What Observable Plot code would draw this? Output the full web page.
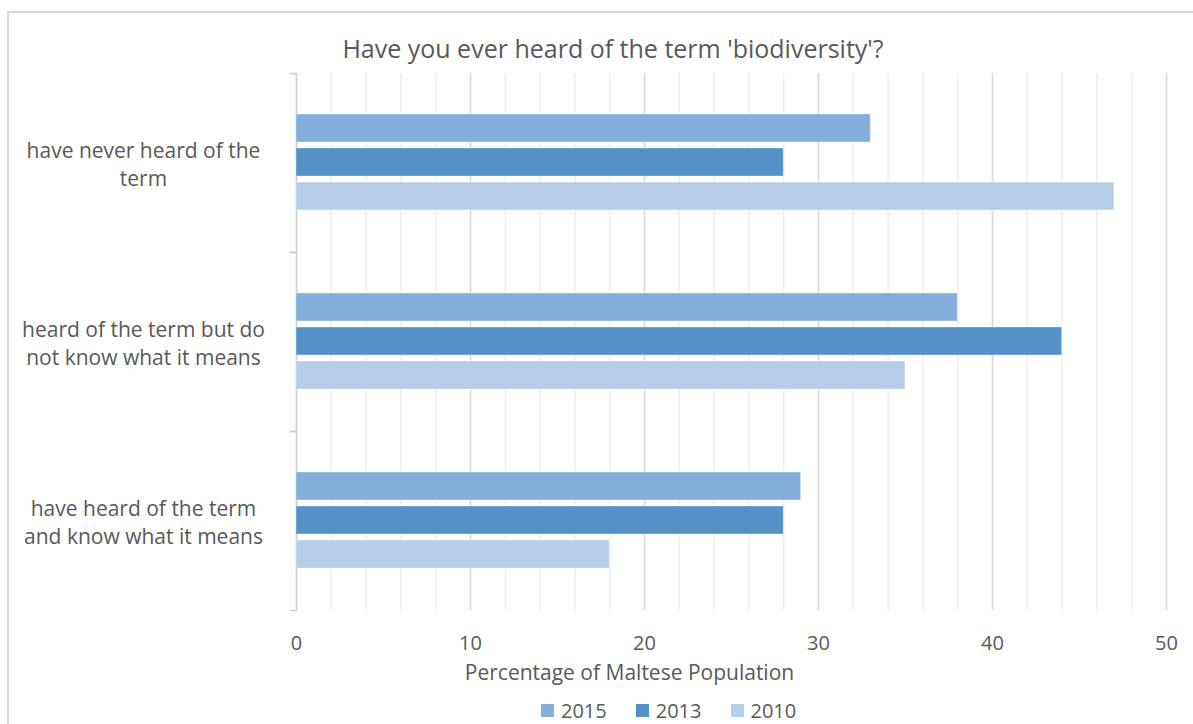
<!DOCTYPE html>
<html>
<head>
<meta charset="utf-8">
<script src="https://cdn.jsdelivr.net/npm/d3@7"></script>
<script src="https://cdn.jsdelivr.net/npm/@observablehq/plot@0.6"></script>
<style>
  html, body { margin: 0; padding: 0; background: #fff; overflow: hidden; }
  body { width: 1193px; height: 724px; position: relative; font-family: "Open Sans", sans-serif; color: #595959; }
  #border { position: absolute; left: 7px; top: 11px; width: 1300px; height: 900px; border: 2px solid #d9d9d9; }
  #title { position: absolute; left: 0; top: 32px; width: 1226px; text-align: center; font-size: 25px; line-height: 32px; }
  #chart { position: absolute; left: 0; top: 60px; }
  #legend { position: absolute; left: 541px; top: 697px; }
  .lg-swatches-wrap { min-height: 0 !important; }
  .lg-swatch { margin-right: 29px !important; font-size: 20px; line-height: 27px; color: #595959; font-family: "Open Sans", sans-serif; }
  .lg-swatch > svg { margin-right: 7px !important; }
</style>
</head>
<body>
<div id="border"></div>
<div id="title">Have you ever heard of the term 'biodiversity'?</div>
<div id="chart"></div>
<div id="legend"></div>
<script>
const categories = [
  "have never heard of the term",
  "heard of the term but do not know what it means",
  "have heard of the term and know what it means"
];
const categoryLabels = [
  "have never heard of the\nterm",
  "heard of the term but do\nnot know what it means",
  "have heard of the term\nand know what it means"
];
const years = ["2015", "2013", "2010"];
const values2015 = [33, 38, 29];
const values2013 = [28, 44, 28];
const values2010 = [47, 35, 18];
const colors = ["#84aedb", "#5591c7", "#b8cde7"];
const xTicks = [0, 10, 20, 30, 40, 50];
const minorTicks = d3.range(0, 51, 2);
const axisTitle = "Percentage of Maltese Population";

const seriesValues = [values2015, values2013, values2010];
const data = [];
categories.forEach((c, i) => {
  years.forEach((y, j) => data.push({category: c, year: y, value: seriesValues[j][i]}));
});
const labelOf = new Map(categories.map((c, i) => [c, categoryLabels[i]]));

const chart = Plot.plot({
  width: 1193,
  height: 625,
  marginLeft: 296,
  marginRight: 27,
  marginTop: 12,
  marginBottom: 75,
  style: {fontFamily: "'Open Sans', sans-serif", fontSize: "20px", color: "#595959", background: "transparent", overflow: "visible"},
  x: {domain: [0, 50], ticks: xTicks, tickSize: 0, tickPadding: 25, label: null},
  y: {domain: years, axis: null, paddingInner: 0.171, paddingOuter: 1.148},
  fy: {domain: categories, axis: null, padding: 0},
  color: {domain: years, range: colors},
  marks: [
    Plot.ruleX(minorTicks, {stroke: "#efefef", strokeWidth: 1.5}),
    Plot.ruleX(xTicks.slice(1), {stroke: "#d9d9d9", strokeWidth: 1.5}),
    Plot.ruleX([0], {stroke: "#cfcfcf", strokeWidth: 1.5}),
    Plot.frame({anchor: "top", insetLeft: -6, insetRight: 870, stroke: "#cfcfcf", strokeWidth: 1.5}),
    Plot.frame({anchor: "bottom", insetLeft: -6, insetRight: 870, stroke: "#cfcfcf", strokeWidth: 1.5}),
    Plot.barX(data, {x: "value", y: "year", fy: "category", fill: "year", stroke: "#ffffff", strokeOpacity: 0.35, strokeWidth: 1}),
    Plot.text(categories, {fy: d => d, text: d => labelOf.get(d), frameAnchor: "left", dx: -153, textAnchor: "middle", lineHeight: 1.34, fontSize: 21, fill: "#595959"}),
    Plot.text([{category: categories[2], label: axisTitle}], {fy: "category", text: "label", frameAnchor: "bottom", lineAnchor: "middle", dy: 63, dx: -102, fontSize: 21, fill: "#595959"})
  ]
});
document.getElementById("chart").appendChild(chart);
document.getElementById("legend").appendChild(chart.legend("color", {legend: "swatches", swatchSize: 13, className: "lg"}));
</script>
</body>
</html>
